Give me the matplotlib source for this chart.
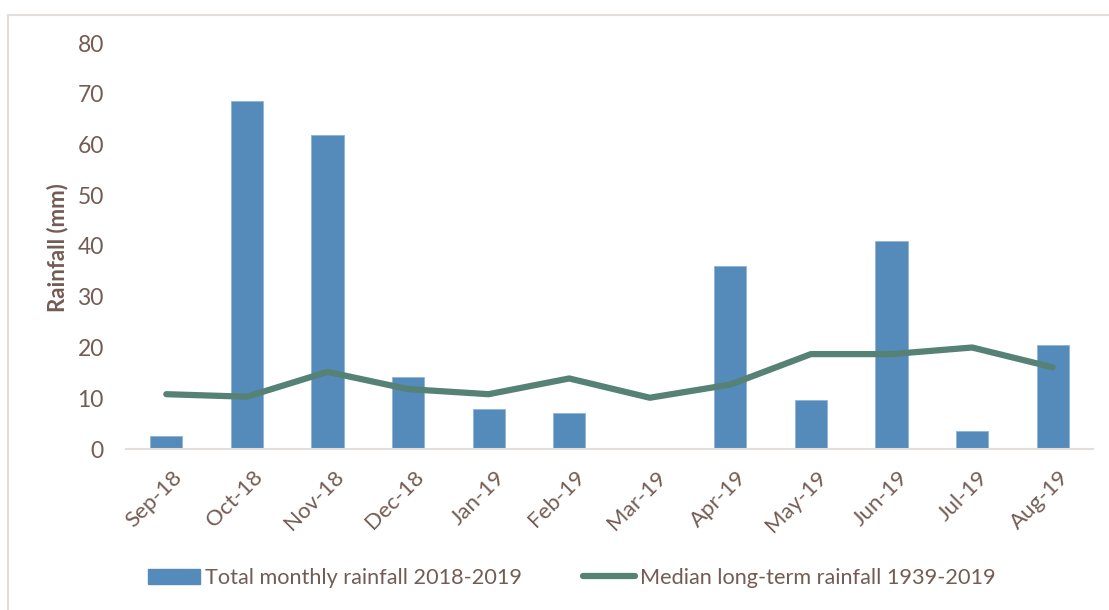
import matplotlib.pyplot as plt
import matplotlib.transforms as mtransforms
from matplotlib.lines import Line2D
import numpy as np

plt.rcParams['font.family'] = ['Lato', 'DejaVu Sans']

months = ['Sep-18', 'Oct-18', 'Nov-18', 'Dec-18', 'Jan-19', 'Feb-19',
          'Mar-19', 'Apr-19', 'May-19', 'Jun-19', 'Jul-19', 'Aug-19']
total_rain = [2.6, 68.6, 61.9, 14.2, 7.9, 7.1, 0.0, 36.1, 9.7, 41.0, 3.6, 20.4]
median_rain = [10.8, 10.3, 15.2, 11.8, 10.8, 13.9, 10.1, 12.7, 18.7, 18.7, 20.0, 16.1]

text_col = '#735C53'
bar_col = '#548BBA'
line_col = '#568276'
axis_col = '#E3DEDA'

fig = plt.figure(figsize=(11.09, 6.10), dpi=100)
ax = fig.add_axes([126 / 1109, 161 / 610, 967 / 1109, 406 / 610])

x = np.arange(len(months))
ax.bar(x, total_rain, width=0.4, color=bar_col, edgecolor='#8FB3D5', linewidth=0.6,
       label='Total monthly rainfall 2018-2019')
ax.plot(x, median_rain, color=line_col, linewidth=4.5, solid_capstyle='round',
        solid_joinstyle='round', label='Median long-term rainfall 1939-2019')

ax.set_xlim(-0.5, len(months) - 0.5)
ax.set_ylim(0, 80)
ax.set_yticks(range(0, 81, 10))
ax.tick_params(axis='y', length=0, pad=16, labelsize=16.5, labelcolor=text_col)
ax.set_xticks(x)
ax.set_xticklabels(months, rotation=45, ha='right', rotation_mode='anchor')
ax.tick_params(axis='x', length=0, pad=13, labelsize=16, labelcolor=text_col)
shift = mtransforms.ScaledTranslation(6 / 100, 0, fig.dpi_scale_trans)
for lab in ax.get_xticklabels():
    lab.set_transform(lab.get_transform() + shift)
for s in ['top', 'right', 'left']:
    ax.spines[s].set_visible(False)
ax.spines['bottom'].set_color(axis_col)
ax.spines['bottom'].set_linewidth(1.5)

fig.text(58 / 1109, 1 - 248 / 610, 'Rainfall (mm)', rotation=90, ha='center', va='center',
         fontsize=16, fontweight='bold', color=text_col)

handles = [plt.Rectangle((0, 0), 1, 1, color=bar_col),
           Line2D([0], [0], color=line_col, linewidth=4.5, solid_capstyle='round')]
labels = ['Total monthly rainfall 2018-2019', 'Median long-term rainfall 1939-2019']
leg = fig.legend(handles, labels, loc='center', bbox_to_anchor=(572 / 1109, 1 - 578 / 610),
                 ncol=2, frameon=False, fontsize=15.6, handlelength=2.4, handleheight=0.7,
                 columnspacing=2.8, handletextpad=0.25)
for t in leg.get_texts():
    t.set_color(text_col)

# chart area border
fig.add_artist(Line2D([8 / 1109, 1.0], [1 - 15 / 610] * 2, color=axis_col, linewidth=1.5))
fig.add_artist(Line2D([8 / 1109] * 2, [0.0, 1 - 15 / 610], color=axis_col, linewidth=1.5))

fig.savefig('out.png', dpi=100)
